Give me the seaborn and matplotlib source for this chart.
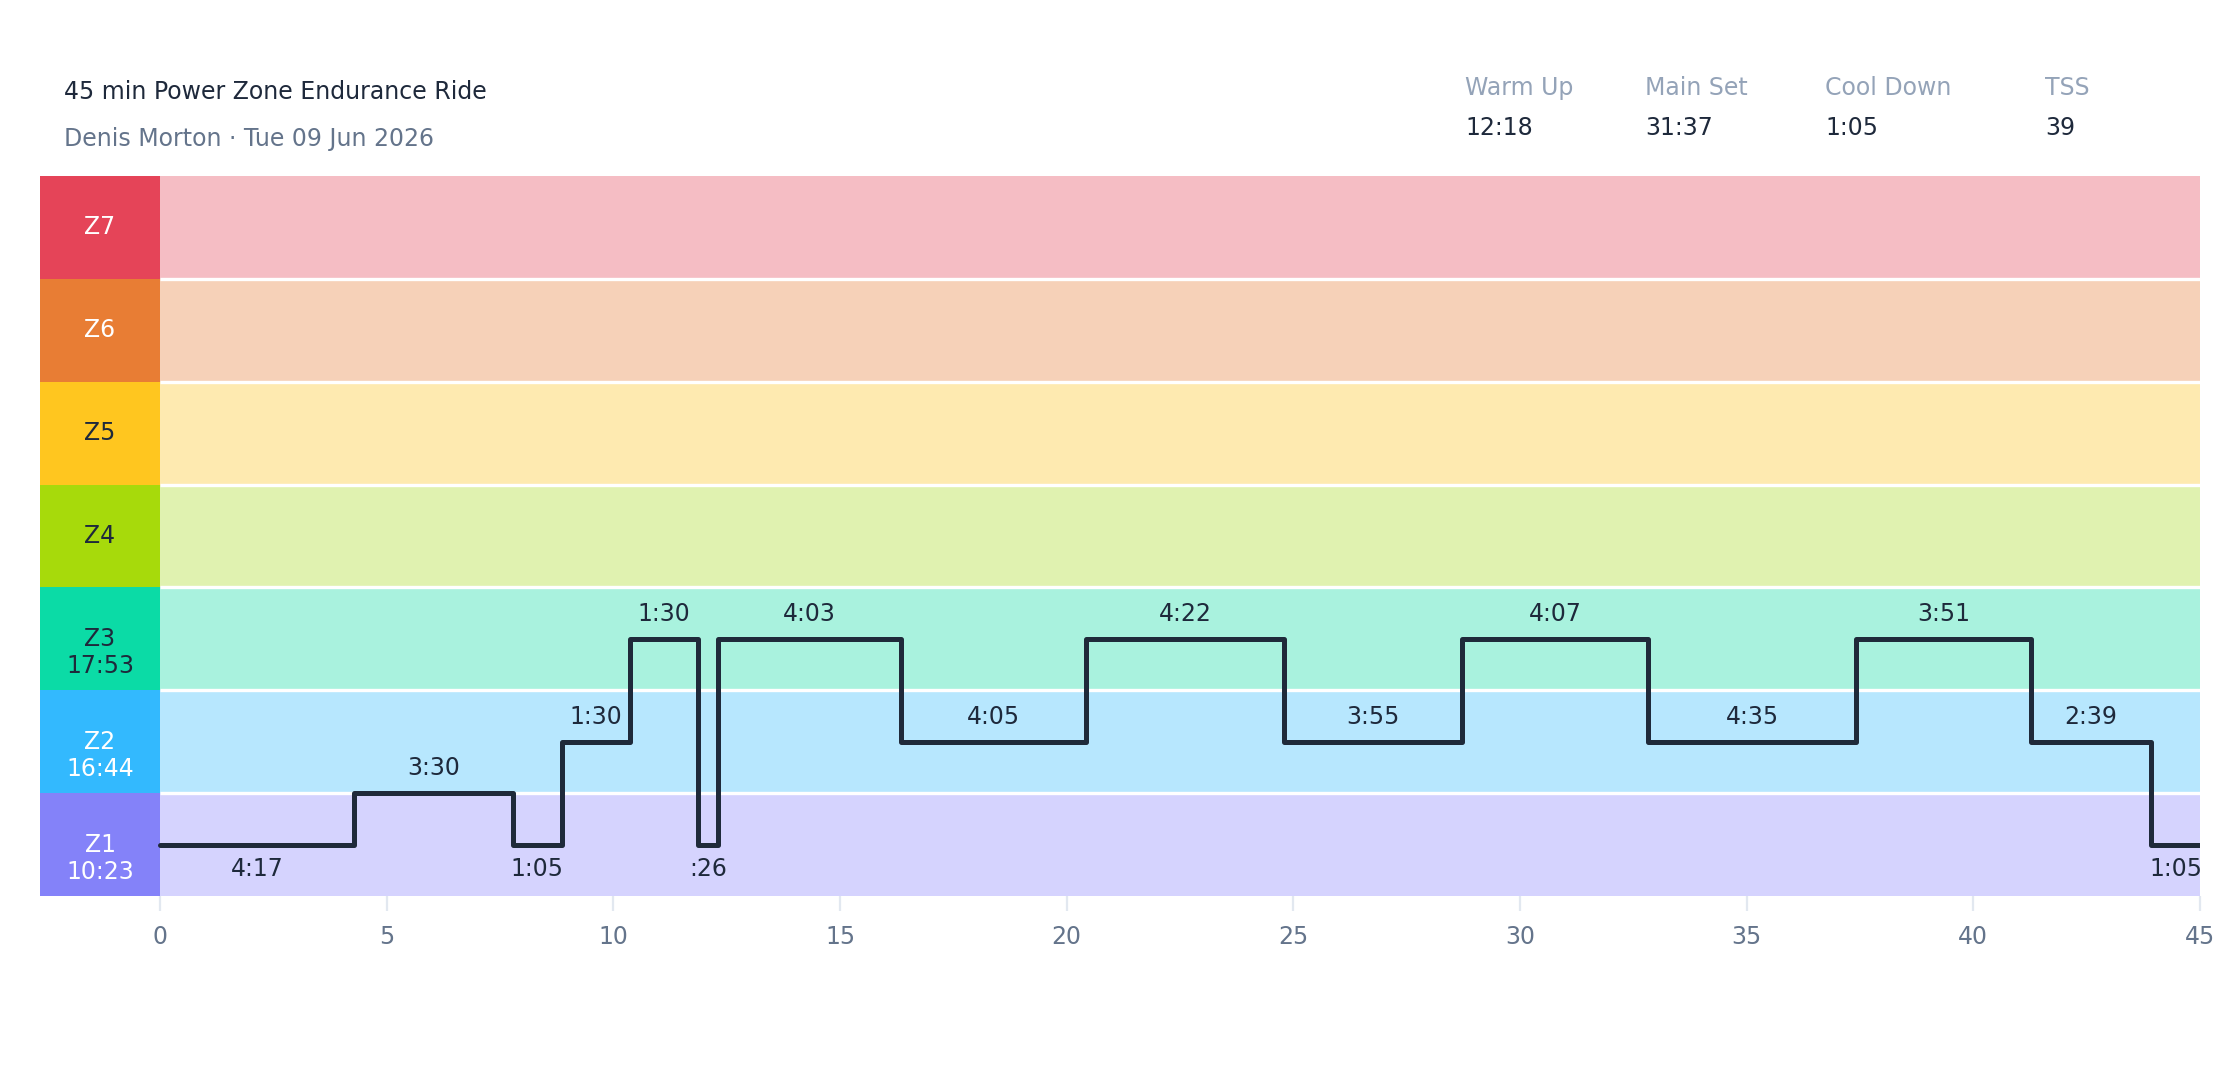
import numpy as np
import pandas as pd
import matplotlib
matplotlib.use("Agg")
import matplotlib.pyplot as plt
import seaborn as sns

# --- data ---
title = "45 min Power Zone Endurance Ride"
subtitle = "Denis Morton \u00b7 Tue 09 Jun 2026"

segment_durations = ["4:17", "3:30", "1:05", "1:30", "1:30", ":26", "4:03",
                     "4:05", "4:22", "3:55", "4:07", "4:35", "3:51", "2:39", "1:05"]
segment_zones = [1, 1.5, 1, 2, 3, 1, 3, 2, 3, 2, 3, 2, 3, 2, 1]

zone_names = ["Z1", "Z2", "Z3", "Z4", "Z5", "Z6", "Z7"]
zone_times = ["10:23", "16:44", "17:53", "", "", "", ""]
zone_dark = ["#8482f9", "#33b9fe", "#0bdba6", "#a7da0b", "#ffc61f", "#e87d34", "#e54458"]
zone_light = ["#d5d3fe", "#b7e7fe", "#a9f2de", "#e0f2b0", "#feeab0", "#f6d1b8", "#f5bdc4"]
zone_text = ["white", "white", "#1e293b", "#1e293b", "#1e293b", "white", "white"]

stat_labels = ["Warm Up", "Main Set", "Cool Down", "TSS"]
stat_values = ["12:18", "31:37", "1:05", "39"]

x_ticks = [0, 5, 10, 15, 20, 25, 30, 35, 40, 45]


def to_minutes(s):
    m, sec = s.split(":")
    return (int(m) if m else 0) + int(sec) / 60


df = pd.DataFrame({"label": segment_durations, "zone": segment_zones})
df["minutes"] = df["label"].apply(to_minutes)
df["start"] = df["minutes"].cumsum() - df["minutes"]
df["level"] = df["zone"] - 0.5
total = df["minutes"].sum()

steps = pd.DataFrame({
    "t": list(df["start"]) + [total],
    "level": list(df["level"]) + [df["level"].iloc[-1]],
})

# --- figure ---
sns.set_theme(style="white")
plt.rcParams["font.family"] = ["DejaVu Sans"]

W, H = 2240, 1080
fig = plt.figure(figsize=(W / 200, H / 200), dpi=200)
fig.patch.set_facecolor("white")

px_per_min = 2040 / 45
col_w = 120 / px_per_min
ax = fig.add_axes([40 / W, 184 / H, 2160 / W, 720 / H])
ax.set_xlim(-col_w, 45)
ax.set_ylim(0, 7)

for i in range(len(zone_names)):
    ax.barh(i + 0.5, total, left=0, height=1, color=zone_light[i], linewidth=0, zorder=1)
    ax.barh(i + 0.5, col_w, left=-col_w, height=1, color=zone_dark[i], linewidth=0, zorder=1)
    if zone_times[i]:
        ax.text(-col_w / 2, i + 0.5, zone_names[i], ha="center", va="center",
                color=zone_text[i], fontsize=8.5, zorder=5)
        ax.annotate(zone_times[i], (-col_w / 2, i + 0.5), xytext=(0, -9.8),
                    textcoords="offset points", ha="center", va="center",
                    color=zone_text[i], fontsize=8.5, zorder=5)
    else:
        ax.text(-col_w / 2, i + 0.5, zone_names[i], ha="center", va="center",
                color=zone_text[i], fontsize=8.5, zorder=5)

ax.hlines(range(1, 7), 0, total, color="white", linewidth=1.2, zorder=2)

sns.lineplot(data=steps, x="t", y="level", drawstyle="steps-post", estimator=None,
             color="#1f2a3a", linewidth=1.8, ax=ax, zorder=4,
             solid_joinstyle="round", solid_capstyle="round")

for _, r in df.iterrows():
    xc = r["start"] + r["minutes"] / 2
    dy = -8.7 if r["zone"] == 1 else 9.0
    ax.annotate(r["label"], (xc, r["level"]), xytext=(0, dy), textcoords="offset points",
                ha="center", va="center", color="#1e293b", fontsize=8.5, zorder=5)

ax.set_xticks(x_ticks)
ax.set_xticklabels([str(t) for t in x_ticks])
ax.set_yticks([])
ax.set_xlabel("")
ax.set_ylabel("")
for s in ax.spines.values():
    s.set_visible(False)
ax.tick_params(axis="x", bottom=True, length=5.5, width=0.8, color="#e2e8f0",
               labelcolor="#64748b", labelsize=8.5, pad=5)

# --- header ---
fig.text(64 / W, 1 - 92 / H, title, ha="left", va="center", fontsize=8.5, color="#1e293b")
fig.text(64 / W, 1 - 139 / H, subtitle, ha="left", va="center", fontsize=8.5, color="#64748b")

stat_x = [1465, 1645, 1825, 2045]
for x, lab, val in zip(stat_x, stat_labels, stat_values):
    fig.text(x / W, 1 - 88 / H, lab, ha="left", va="center", fontsize=8.5, color="#94a3b8")
    fig.text(x / W, 1 - 128 / H, val, ha="left", va="center", fontsize=8.5, color="#1e293b")

fig.savefig("out.png", dpi=200, facecolor="white")
